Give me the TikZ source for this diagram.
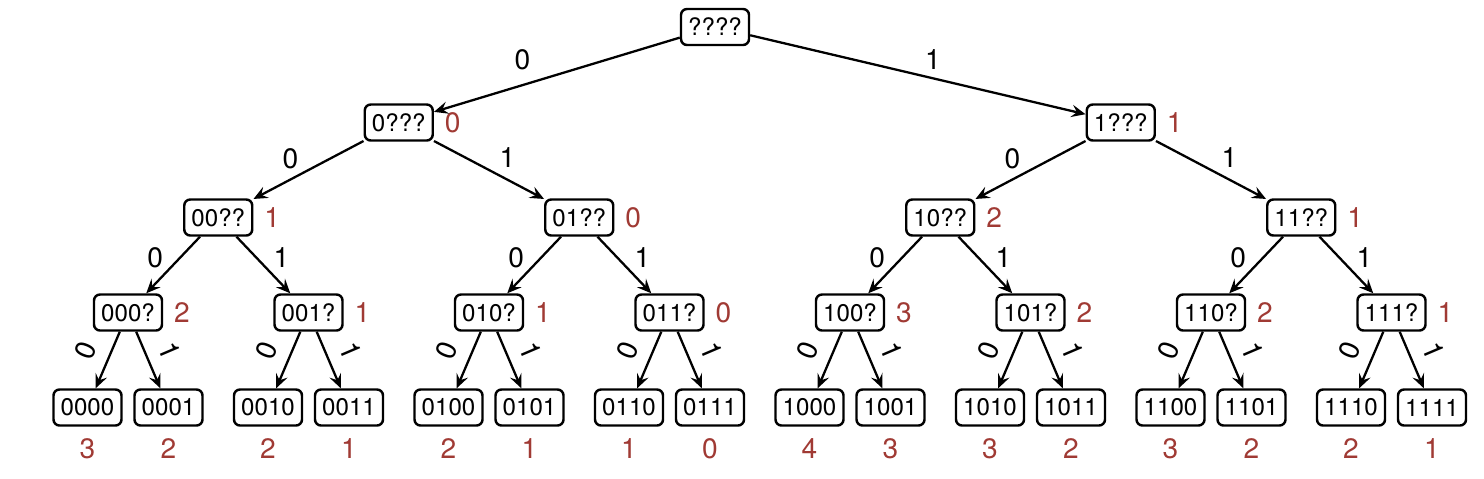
\documentclass[tikz,border=0pt]{standalone}
\usepackage{fontspec}
\setmainfont{TeX Gyre Heros}
\usepackage{tikz}
\usetikzlibrary{arrows.meta, positioning}
\definecolor{costred}{RGB}{160,58,52}

\begin{document}
\begin{tikzpicture}[
  x=0.2mm, y=-0.2mm,
  cell/.style = {draw, line width=1.4pt, rounded corners=1.2mm, minimum width=13.6mm, minimum height=7.2mm, inner sep=1pt, font=\fontsize{13.7pt}{16pt}\selectfont},
  arrow/.style = {line width=1.3pt, -{Stealth[length=8pt, width=7pt, inset=3pt]}},
  bit/.style = {inner sep=0pt, font=\fontsize{16pt}{18pt}\selectfont},
  cost/.style = {inner sep=0pt, text=costred, font=\fontsize{16pt}{18pt}\selectfont},
  sidecost/.style = {cost, right=2.1mm of #1},
  leafcost/.style = {cost, below=2.3mm of #1}
]
  \useasboundingbox (0,0) rectangle (1484,478);

  % Root
  \node[cell] (root) at (715,27) {????};

  % First bit
  \node[cell] (n_0) at (398.75,122.5) {0???};
  \node[cell] (n_1) at (1120.75,122.5) {1???};

  % Second bit
  \node[cell] (n_00) at (218.25,217.5) {00??};
  \node[cell] (n_01) at (579.25,217.5) {01??};
  \node[cell] (n_10) at (940.25,217.5) {10??};
  \node[cell] (n_11) at (1301.25,217.5) {11??};

  % Third bit
  \node[cell] (n_000) at (128,312.5) {000?};
  \node[cell] (n_001) at (308.5,312.5) {001?};
  \node[cell] (n_010) at (489,312.5) {010?};
  \node[cell] (n_011) at (669.5,312.5) {011?};
  \node[cell] (n_100) at (850,312.5) {100?};
  \node[cell] (n_101) at (1030.5,312.5) {101?};
  \node[cell] (n_110) at (1211,312.5) {110?};
  \node[cell] (n_111) at (1391.5,312.5) {111?};

  % Leaves
  \node[cell] (n_0000) at (87.5,407.5) {0000};
  \node[cell] (n_0001) at (168.5,407.5) {0001};
  \node[cell] (n_0010) at (268,407.5) {0010};
  \node[cell] (n_0011) at (349,407.5) {0011};
  \node[cell] (n_0100) at (448.5,407.5) {0100};
  \node[cell] (n_0101) at (529.5,407.5) {0101};
  \node[cell] (n_0110) at (629,407.5) {0110};
  \node[cell] (n_0111) at (710,407.5) {0111};
  \node[cell] (n_1000) at (809.5,407.5) {1000};
  \node[cell] (n_1001) at (890.5,407.5) {1001};
  \node[cell] (n_1010) at (990,407.5) {1010};
  \node[cell] (n_1011) at (1071,407.5) {1011};
  \node[cell] (n_1100) at (1170.5,407.5) {1100};
  \node[cell] (n_1101) at (1251.5,407.5) {1101};
  \node[cell] (n_1110) at (1351,407.5) {1110};
  \node[cell] (n_1111) at (1432,407.5) {1111};

  % Costs of inner nodes
  \node[sidecost=n_0] (c_0) {0};
  \node[sidecost=n_1] (c_1) {1};
  \node[sidecost=n_00] (c_00) {1};
  \node[sidecost=n_01] (c_01) {0};
  \node[sidecost=n_10] (c_10) {2};
  \node[sidecost=n_11] (c_11) {1};
  \node[sidecost=n_000] (c_000) {2};
  \node[sidecost=n_001] (c_001) {1};
  \node[sidecost=n_010] (c_010) {1};
  \node[sidecost=n_011] (c_011) {0};
  \node[sidecost=n_100] (c_100) {3};
  \node[sidecost=n_101] (c_101) {2};
  \node[sidecost=n_110] (c_110) {2};
  \node[sidecost=n_111] (c_111) {1};

  % Costs of leaves
  \node[leafcost=n_0000] (c_0000) {3};
  \node[leafcost=n_0001] (c_0001) {2};
  \node[leafcost=n_0010] (c_0010) {2};
  \node[leafcost=n_0011] (c_0011) {1};
  \node[leafcost=n_0100] (c_0100) {2};
  \node[leafcost=n_0101] (c_0101) {1};
  \node[leafcost=n_0110] (c_0110) {1};
  \node[leafcost=n_0111] (c_0111) {0};
  \node[leafcost=n_1000] (c_1000) {4};
  \node[leafcost=n_1001] (c_1001) {3};
  \node[leafcost=n_1010] (c_1010) {3};
  \node[leafcost=n_1011] (c_1011) {2};
  \node[leafcost=n_1100] (c_1100) {3};
  \node[leafcost=n_1101] (c_1101) {2};
  \node[leafcost=n_1110] (c_1110) {2};
  \node[leafcost=n_1111] (c_1111) {1};

  % Edges
  \draw[arrow] (root) -- node[bit, midway, shift={(-34.5,-14.75)}] {0} (n_0);
  \draw[arrow] (root) -- node[bit, midway, shift={(15,-15)}] {1} (n_1);

  \draw[arrow] (n_0) -- node[bit, midway, shift={(-18,-11.5)}] {0} (n_00);
  \draw[arrow] (n_0) -- node[bit, midway, shift={(18.5,-12)}] {1} (n_01);
  \draw[arrow] (n_1) -- node[bit, midway, shift={(-18,-11.5)}] {0} (n_10);
  \draw[arrow] (n_1) -- node[bit, midway, shift={(18.5,-12)}] {1} (n_11);

  \draw[arrow] (n_00) -- node[bit, midway, shift={(-18,-7.5)}] {0} (n_000);
  \draw[arrow] (n_00) -- node[bit, midway, shift={(18,-7.5)}] {1} (n_001);
  \draw[arrow] (n_01) -- node[bit, midway, shift={(-18,-7.5)}] {0} (n_010);
  \draw[arrow] (n_01) -- node[bit, midway, shift={(18,-7.5)}] {1} (n_011);
  \draw[arrow] (n_10) -- node[bit, midway, shift={(-18,-7.5)}] {0} (n_100);
  \draw[arrow] (n_10) -- node[bit, midway, shift={(18,-7.5)}] {1} (n_101);
  \draw[arrow] (n_11) -- node[bit, midway, shift={(-18,-7.5)}] {0} (n_110);
  \draw[arrow] (n_11) -- node[bit, midway, shift={(18,-7.5)}] {1} (n_111);

  \draw[arrow] (n_000) -- node[bit, midway, sloped, above=2.5mm] {0} (n_0000);
  \draw[arrow] (n_000) -- node[bit, midway, sloped, above=2.5mm] {1} (n_0001);
  \draw[arrow] (n_001) -- node[bit, midway, sloped, above=2.5mm] {0} (n_0010);
  \draw[arrow] (n_001) -- node[bit, midway, sloped, above=2.5mm] {1} (n_0011);
  \draw[arrow] (n_010) -- node[bit, midway, sloped, above=2.5mm] {0} (n_0100);
  \draw[arrow] (n_010) -- node[bit, midway, sloped, above=2.5mm] {1} (n_0101);
  \draw[arrow] (n_011) -- node[bit, midway, sloped, above=2.5mm] {0} (n_0110);
  \draw[arrow] (n_011) -- node[bit, midway, sloped, above=2.5mm] {1} (n_0111);
  \draw[arrow] (n_100) -- node[bit, midway, sloped, above=2.5mm] {0} (n_1000);
  \draw[arrow] (n_100) -- node[bit, midway, sloped, above=2.5mm] {1} (n_1001);
  \draw[arrow] (n_101) -- node[bit, midway, sloped, above=2.5mm] {0} (n_1010);
  \draw[arrow] (n_101) -- node[bit, midway, sloped, above=2.5mm] {1} (n_1011);
  \draw[arrow] (n_110) -- node[bit, midway, sloped, above=2.5mm] {0} (n_1100);
  \draw[arrow] (n_110) -- node[bit, midway, sloped, above=2.5mm] {1} (n_1101);
  \draw[arrow] (n_111) -- node[bit, midway, sloped, above=2.5mm] {0} (n_1110);
  \draw[arrow] (n_111) -- node[bit, midway, sloped, above=2.5mm] {1} (n_1111);

\end{tikzpicture}
\end{document}
